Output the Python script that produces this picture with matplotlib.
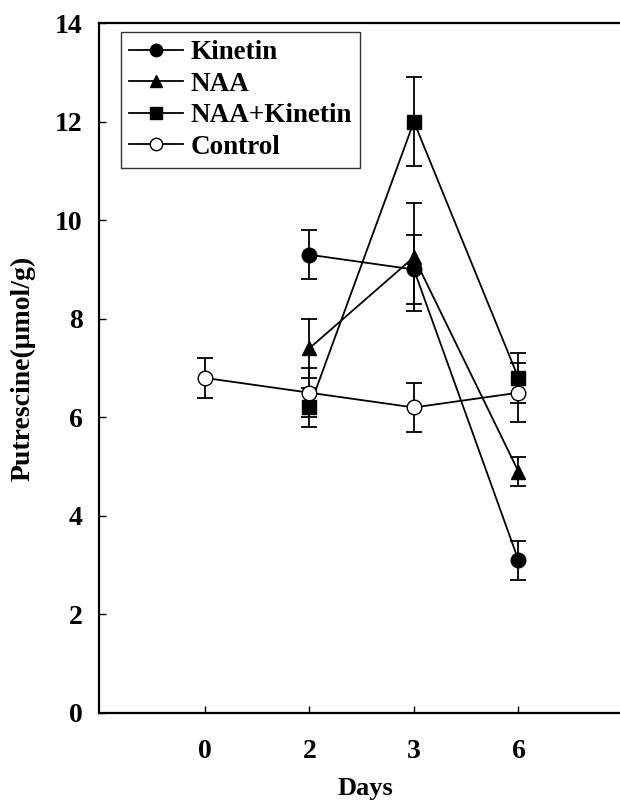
import matplotlib
matplotlib.use("Agg")
from matplotlib import pyplot as plt

plt.rcParams['font.family'] = ['Liberation Serif', 'DejaVu Serif']
plt.rcParams['font.weight'] = 'bold'

day_labels = ['0', '2', '3', '6']

# series values (index into day_labels), mean and error
kinetin_idx = [1, 2, 3]
kinetin = [9.3, 9.0, 3.1]
kinetin_err = [0.5, 0.7, 0.4]

naa_idx = [1, 2, 3]
naa = [7.4, 9.25, 4.9]
naa_err = [0.6, 1.1, 0.3]

naa_kin_idx = [1, 2, 3]
naa_kin = [6.2, 12.0, 6.8]
naa_kin_err = [0.4, 0.9, 0.5]

control_idx = [0, 1, 2, 3]
control = [6.8, 6.5, 6.2, 6.5]
control_err = [0.4, 0.5, 0.5, 0.6]

fig = plt.figure(figsize=(6.2, 8.05), dpi=100)
ax = fig.add_axes([0.16, 0.1143, 0.86, 0.857])

common = dict(color='black', lw=1.3, ms=10.5, elinewidth=1.3, capsize=5.5, capthick=1.3)
ax.errorbar(kinetin_idx, kinetin, yerr=kinetin_err, marker='o', mfc='black', label='Kinetin', **common)
ax.errorbar(naa_idx, naa, yerr=naa_err, marker='^', mfc='black', label='NAA', **common)
ax.errorbar(naa_kin_idx, naa_kin, yerr=naa_kin_err, marker='s', mfc='black', label='NAA+Kinetin', **common)
ax.errorbar(control_idx, control, yerr=control_err, marker='o', mfc='white', label='Control', **common)

ax.set_xlim(-1.01, 4.09)
ax.set_ylim(0, 14)
ax.set_xticks(range(len(day_labels)))
ax.set_xticklabels(day_labels)
ax.set_yticks(range(0, 15, 2))

for s in ['left', 'bottom', 'top']:
    ax.spines[s].set_linewidth(1.6)
ax.spines['right'].set_visible(False)
ax.tick_params(direction='in', length=5, width=1, labelsize=20, pad=12)
ax.tick_params(axis='x', pad=18.5)

ax.set_xlabel('Days', fontsize=19, fontweight='bold', labelpad=9.5)
ax.set_ylabel('Putrescine(μmol/g)', fontsize=20, fontweight='bold', labelpad=14)

handles, labels = ax.get_legend_handles_labels()
handles = [h[0] for h in handles]
leg = ax.legend(handles, labels, loc='upper left', bbox_to_anchor=(0.04, 0.987),
                fontsize=19.5, frameon=True, fancybox=False, edgecolor='black',
                handlelength=2.0, handletextpad=0.3, labelspacing=0.24,
                borderpad=0.3, borderaxespad=0, markerscale=0.85)
leg.get_frame().set_linewidth(1.0)
for t in leg.get_texts():
    t.set_fontweight('bold')

fig.savefig('out.png', dpi=100)
